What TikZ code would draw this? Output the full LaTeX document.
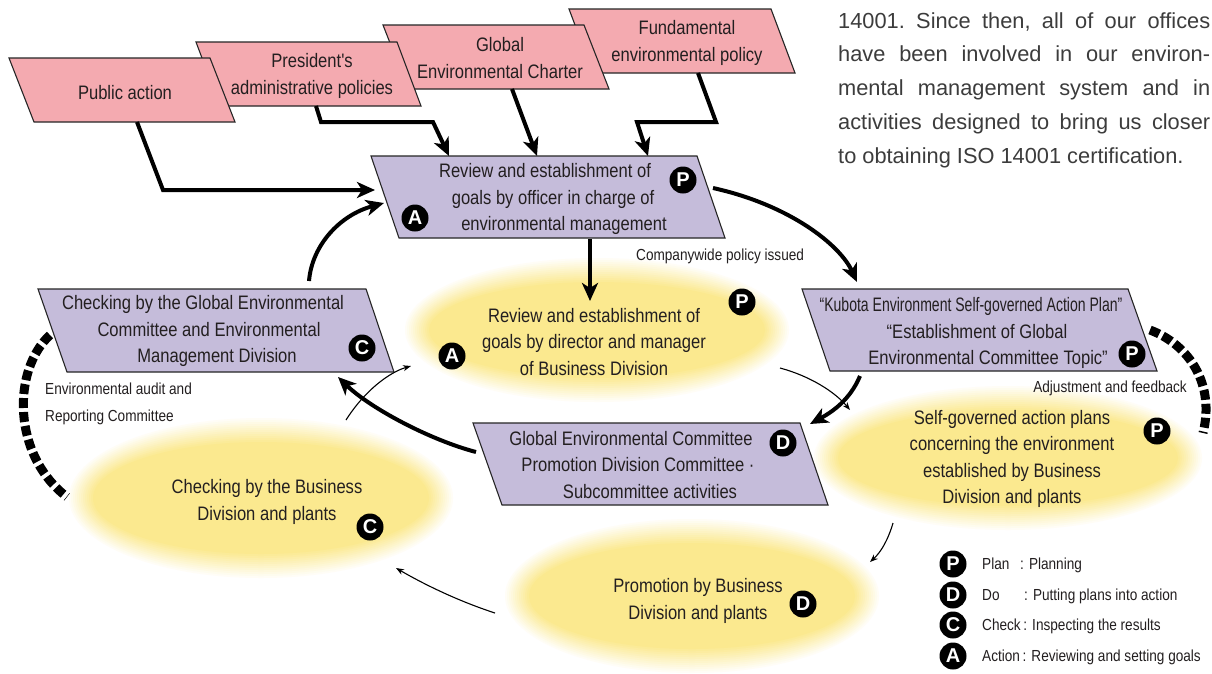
\documentclass[tikz,border=0pt]{standalone}
\usepackage{fontspec}
\setmainfont{Liberation Sans}
\newfontfamily\cond[FakeStretch=0.85]{Liberation Sans}
\newfontfamily\condx[FakeStretch=0.72]{Liberation Sans}
\usetikzlibrary{arrows.meta}
\definecolor{pinkc}{RGB}{244,170,176}
\definecolor{purplec}{RGB}{197,188,218}
\definecolor{yelc}{RGB}{251,233,143}
\definecolor{textc}{RGB}{35,31,32}
\definecolor{parac}{RGB}{60,60,60}
\newcommand\lx[2]{\makebox[0pt]{\hspace*{#1pt}#2}}
\newcommand\glow[4]{%
  \foreach \k in {0,...,12}{%
    \pgfmathsetmacro\off{\k*2}%
    \pgfmathsetmacro\pc{(\k+1)*100/13}%
    \pgfmathsetmacro\rx{#3-\off}%
    \pgfmathsetmacro\ry{#4-\off}%
    \fill[yelc!\pc!white] (#1,#2) ellipse (\rx pt and \ry pt);
  }}
\tikzset{
  pinkbox/.style={fill=pinkc, draw=black!85, line width=1.1pt},
  purplebox/.style={fill=purplec, draw=black!85, line width=1.1pt},
  lbl/.style={font={\cond\fontsize{19.5}{26.5}\selectfont}, text=textc, align=center, inner sep=0pt},
  small/.style={font={\cond\fontsize{16}{20}\selectfont}, text=textc, inner sep=0pt, text height=12pt, text depth=3.5pt},
  para/.style={font={\frenchspacing\fontsize{21.8}{33.75}\selectfont}, text=parac, inner sep=0pt, anchor=base west},
  badge/.style={circle, fill=black, text=white, minimum size=27pt, inner sep=0pt, font={\bfseries\fontsize{20}{20}\selectfont}},
  bigarrow/.style={line width=4pt, -{Stealth[length=18pt,width=16pt,inset=5pt]}},
  thinarrow/.style={line width=1.1pt, -{Stealth[length=8pt,width=6pt]}},
  dasharc/.style={line width=9pt, dash pattern=on 10pt off 4pt},
}
\begin{document}
\begin{tikzpicture}[x=1pt,y=-1pt]
\useasboundingbox (0,0) rectangle (1212,673);
\fill[white] (0,0) rectangle (1212,673);

% glowing ellipses
\glow{597}{330}{192}{72}
\glow{261}{498}{192}{80}
\glow{1008}{458}{194}{72}
\glow{692}{596}{187}{77}

% dashed arcs
\coordinate (dl1) at (50,335);
\coordinate (dl2) at (67,497);
\coordinate (dr1) at (1150,330);
\coordinate (dr2) at (1203,433);
\draw[dasharc] (dl1) .. controls (12,370) and (12,455) .. (dl2);
\draw[dasharc] (dr1) .. controls (1190,345) and (1215,385) .. (dr2);

% pink boxes (back to front)
\draw[pinkbox] (569,9) -- (771,9) -- (795,73) -- (593,73) -- cycle;
\draw[pinkbox] (383,25) -- (584,25) -- (609,89) -- (408,89) -- cycle;
\draw[pinkbox] (196,42) -- (397,42) -- (421,106) -- (220,106) -- cycle;
\draw[pinkbox] (9,58) -- (210,58) -- (235,122) -- (34,122) -- cycle;

% purple boxes
\draw[purplebox] (371,156) -- (697,156) -- (725,238) -- (399,238) -- cycle;
\draw[purplebox] (38,289) -- (366,289) -- (394,372) -- (67,372) -- cycle;
\draw[purplebox] (802,289) -- (1128,289) -- (1157,371) -- (830,371) -- cycle;
\draw[purplebox] (473,423) -- (800,423) -- (828,505) -- (502,505) -- cycle;

% connector end points
\coordinate (pubout) at (137,122);
\coordinate (presout) at (316,106);
\coordinate (globout) at (512,89);
\coordinate (fundout) at (698,73);
\coordinate (topin1) at (375,190);
\coordinate (topin2) at (449,156);
\coordinate (topin3) at (537,156);
\coordinate (topin4) at (648,156);
\coordinate (topin5) at (384,203);
\coordinate (topdown) at (590,239);
\coordinate (ellin) at (590,301);
\coordinate (topright) at (713,188);
\coordinate (rightin) at (857,282);
\coordinate (rightout) at (860,376);
\coordinate (botin) at (810,424);
\coordinate (botout) at (476,452);
\coordinate (leftin) at (338,377);
\coordinate (leftout) at (309,281);
\coordinate (t1a) at (346,420);
\coordinate (t1b) at (411,366);
\coordinate (t2a) at (780,368);
\coordinate (t2b) at (850,410);
\coordinate (t3a) at (893,523);
\coordinate (t3b) at (870,562);
\coordinate (t4a) at (495,613);
\coordinate (t4b) at (396,568);

% thick arrows
\draw[bigarrow] (pubout) -- (163,190) -- (topin1);
\draw[bigarrow] (presout) -- (321,122) -- (433,122) -- (topin2);
\draw[bigarrow] (globout) -- (topin3);
\draw[bigarrow] (fundout) -- (716,122) -- (637,122) -- (topin4);
\draw[bigarrow] (topdown) -- (ellin);
\draw[bigarrow] (topright) .. controls (790,205) and (840,245) .. (rightin);
\draw[bigarrow] (rightout) .. controls (850,400) and (832,412) .. (botin);
\draw[bigarrow] (botout) .. controls (430,440) and (370,408) .. (leftin);
\draw[bigarrow] (leftout) .. controls (312,245) and (340,215) .. (topin5);

% thin arrows
\draw[thinarrow] (t1a) .. controls (365,390) and (390,372) .. (t1b);
\draw[thinarrow] (t2a) .. controls (810,376) and (835,392) .. (t2b);
\draw[thinarrow] (t3a) .. controls (888,540) and (881,552) .. (t3b);
\draw[thinarrow] (t4a) .. controls (455,600) and (420,582) .. (t4b);

% labels in pink boxes
\node[lbl] (tPub) at (125,93) {Public action};
\node[lbl] (tPres) at (312,76) {President's\\administrative policies};
\node[lbl] (tGlob) at (500,58) {Global\\Environmental Charter};
\node[lbl] (tFund) at (687,43) {Fundamental\\environmental policy};

% labels in purple boxes
\node[lbl] (tTop) at (553,199) {\lx{-16}{Review and establishment of}\\\lx{0}{goals by officer in charge of}\\\lx{22}{environmental management}};
\node[lbl] (tLeft) at (209,331) {\lx{-12}{Checking by the Global Environmental}\\\lx{0}{Committee and Environmental}\\\lx{16}{Management Division}};
\node[lbl] (tRight) at (977,333) {\lx{-12}{\condx “Kubota Environment Self-governed Action Plan”}\\\lx{0}{“Establishment of Global}\\\lx{22}{Environmental Committee Topic”}};
\node[lbl] (tBot) at (638,465) {\lx{-14}{Global Environmental Committee}\\\lx{0}{Promotion Division Committee ·}\\\lx{24}{Subcommittee activities}};

% labels in ellipses
\node[lbl] (eCen) at (594,342) {Review and establishment of\\goals by director and manager\\of Business Division};
\node[lbl] (eLeft) at (267,502) {Checking by the Business\\Division and plants};
\node[lbl] (eRight) at (1012,459) {Self-governed action plans\\concerning the environment\\established by Business\\Division and plants};
\node[lbl] (eBot) at (698,601) {Promotion by Business\\Division and plants};

% badges
\node[badge] (bTopP) at (683,180) {P};
\node[badge] (bTopA) at (415,218) {A};
\node[badge] (bCenP) at (742,302) {P};
\node[badge] (bCenA) at (452,356) {A};
\node[badge] (bLeftC) at (362,348) {C};
\node[badge] (bELeftC) at (370,527) {C};
\node[badge] (bRightP) at (1132,354) {P};
\node[badge] (bERightP) at (1157,431) {P};
\node[badge] (bBotD) at (783,443) {D};
\node[badge] (bEBotD) at (803,604) {D};

% small labels
\node[small, anchor=west] (sComp) at (636,256) {Companywide policy issued};
\node[small, anchor=west] (sAud1) at (45,390) {Environmental audit and};
\node[small, anchor=west] (sAud2) at (45,417) {Reporting Committee};
\node[small, anchor=east] (sAdj) at (1187,388) {Adjustment and feedback};

% legend
\node[badge] (lgP) at (953,564) {P};
\node[badge] (lgD) at (953,595) {D};
\node[badge] (lgC) at (953,625) {C};
\node[badge] (lgA) at (953,656) {A};
\node[small, anchor=west] (lgP1) at (982,565) {Plan};
\node[small, anchor=west] (lgP2) at (1020,565) {: Planning};
\node[small, anchor=west] (lgD1) at (982,596) {Do};
\node[small, anchor=west] (lgD2) at (1024,596) {: Putting plans into action};
\node[small, anchor=west] (lgC1) at (982,626) {Check\,: Inspecting the results};
\node[small, anchor=west] (lgA1) at (982,657) {Action\,: Reviewing and setting goals};

% paragraph
\node[para] (p1) at (838,28) {\makebox[372pt][s]{14001. Since then, all of our offices}};
\node[para] (p2) at (838,61.75) {\makebox[372pt][s]{have been involved in our environ-}};
\node[para] (p3) at (838,95.5) {\makebox[372pt][s]{mental management system and in}};
\node[para] (p4) at (838,129.25) {\makebox[372pt][s]{activities designed to bring us closer}};
\node[para] (p5) at (838,163) {to obtaining ISO 14001 certification.};
\end{tikzpicture}
\end{document}
